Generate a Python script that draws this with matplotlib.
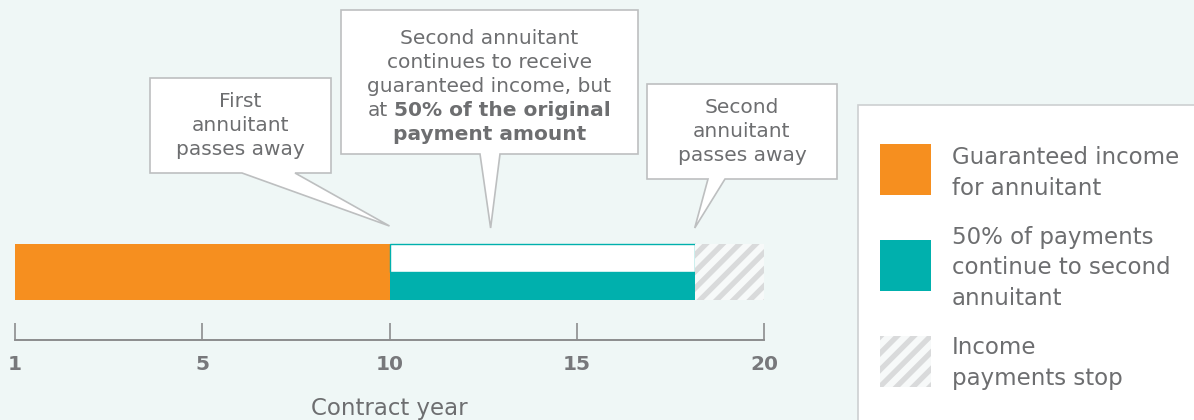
import matplotlib
matplotlib.use("Agg")
import matplotlib.pyplot as plt
from matplotlib.patches import Rectangle, Polygon

# ---- data ----
segment_names = ["Guaranteed income\nfor annuitant",
                 "50% of payments\ncontinue to second\nannuitant",
                 "Income\npayments stop"]
segment_start = [0, 10, 18.15]
segment_end = [10, 18.15, 20]
tick_pos = [0, 5, 10, 15, 20]
tick_labels = ["1", "5", "10", "15", "20"]
event_years = [10, 12.7, 18.15]
callout_lines = [
    [[("First", False)], [("annuitant", False)], [("passes away", False)]],
    [[("Second annuitant", False)], [("continues to receive", False)],
     [("guaranteed income, but", False)],
     [("at", False), ("50% of the original", True)],
     [("payment amount", True)]],
    [[("Second", False)], [("annuitant", False)], [("passes away", False)]],
]

BG = "#EFF7F6"
ORANGE = "#F68F1F"
TEAL = "#00B0AD"
TEXT = "#6D6E70"
HATCH_BG = "#F7F9F9"
HATCH_FG = "#D9DADB"
BOX_EDGE = "#BDBFC0"

plt.rcParams["font.family"] = "DejaVu Sans"
plt.rcParams["hatch.linewidth"] = 3.8

fig = plt.figure(figsize=(11.94, 4.2), dpi=100, facecolor=BG)

# overlay in pixel coordinates for callouts and legend
ov = fig.add_axes([0, 0, 1, 1])
ov.set_xlim(0, 1194)
ov.set_ylim(420, 0)
ov.axis("off")

# main timeline axes
ax = fig.add_axes([15 / 1194, 80 / 420, 749 / 1194, 110 / 420])
ax.set_xlim(0, 20)
ax.set_ylim(0, 110)
ax.patch.set_visible(False)
for s in ["top", "left", "right"]:
    ax.spines[s].set_visible(False)
ax.spines["bottom"].set_color("#8C8D8E")
ax.spines["bottom"].set_linewidth(1.4)
ax.set_yticks([])
ax.set_xticks(tick_pos)
ax.set_xticklabels(tick_labels, fontsize=14.5, fontweight="bold", color="#77787B")
ax.tick_params(axis="x", direction="in", length=12, width=1.2, color="#8C8D8E", pad=11)
ax.set_xlabel("Contract year", fontsize=16.5, color=TEXT, labelpad=16)

# bar segments
ax.barh(68, segment_end[0] - segment_start[0], left=segment_start[0], height=56,
        color=ORANGE, linewidth=0)
w2 = segment_end[1] - segment_start[1]
ax.barh(54, w2, left=segment_start[1], height=28, color=TEAL, linewidth=0)
ax.barh(82, w2, left=segment_start[1], height=28, facecolor="white",
        edgecolor=TEAL, linewidth=1)
ax.barh(68, segment_end[2] - segment_start[2], left=segment_start[2], height=56,
        facecolor=HATCH_BG, edgecolor=HATCH_FG, hatch="//", linewidth=0)

# callouts
boxes = [(150, 78, 331, 173), (341, 10, 638, 154), (647, 84, 837, 179)]
tail_bases = [(242, 295), (480, 500), (708, 725)]
tip_y = [226, 228, 228]
text_centers = [125.5, 86.5, 131.5]
line_step = 24

renderer = fig.canvas.get_renderer()
for i, (l, t, r, b) in enumerate(boxes):
    tx = ax.transData.transform((event_years[i], 0))[0]
    b0, b1 = tail_bases[i]
    verts = [(l, t), (r, t), (r, b), (b1, b), (tx, tip_y[i]), (b0, b), (l, b)]
    ov.add_patch(Polygon(verts, closed=True, facecolor="white",
                         edgecolor=BOX_EDGE, linewidth=1.2))
    lines = callout_lines[i]
    cx = (l + r) / 2
    y0 = text_centers[i] - line_step * (len(lines) - 1) / 2
    for j, runs in enumerate(lines):
        y = y0 + j * line_step
        if len(runs) == 1:
            txt, bold = runs[0]
            ov.text(cx, y, txt, ha="center", va="center", fontsize=14.5,
                    color=TEXT, fontweight="bold" if bold else "normal")
        else:
            objs = [ov.text(0, y, txt, ha="left", va="center", fontsize=14.5,
                            color=TEXT, fontweight="bold" if bold else "normal")
                    for txt, bold in runs]
            gap = 6
            widths = [o.get_window_extent(renderer).width for o in objs]
            total = sum(widths) + gap * (len(objs) - 1)
            x = cx - total / 2
            for o, w in zip(objs, widths):
                o.set_x(x)
                x += w + gap

# legend panel
ov.add_patch(Rectangle((858, 105), 400, 400, facecolor="white",
                       edgecolor="#CDD0D1", linewidth=1.2))
swatch_y = [144, 240, 336]
label_y = [173, 268, 363]
swatch_style = [
    dict(facecolor=ORANGE, linewidth=0),
    dict(facecolor=TEAL, linewidth=0),
    dict(facecolor=HATCH_BG, edgecolor=HATCH_FG, hatch="//", linewidth=0),
]
for k in range(3):
    ov.add_patch(Rectangle((880, swatch_y[k]), 51, 51, **swatch_style[k]))
    ov.text(952, label_y[k], segment_names[k], ha="left", va="center",
            fontsize=16.5, color=TEXT, linespacing=1.42)

fig.savefig("out.png", dpi=100, facecolor=BG)
